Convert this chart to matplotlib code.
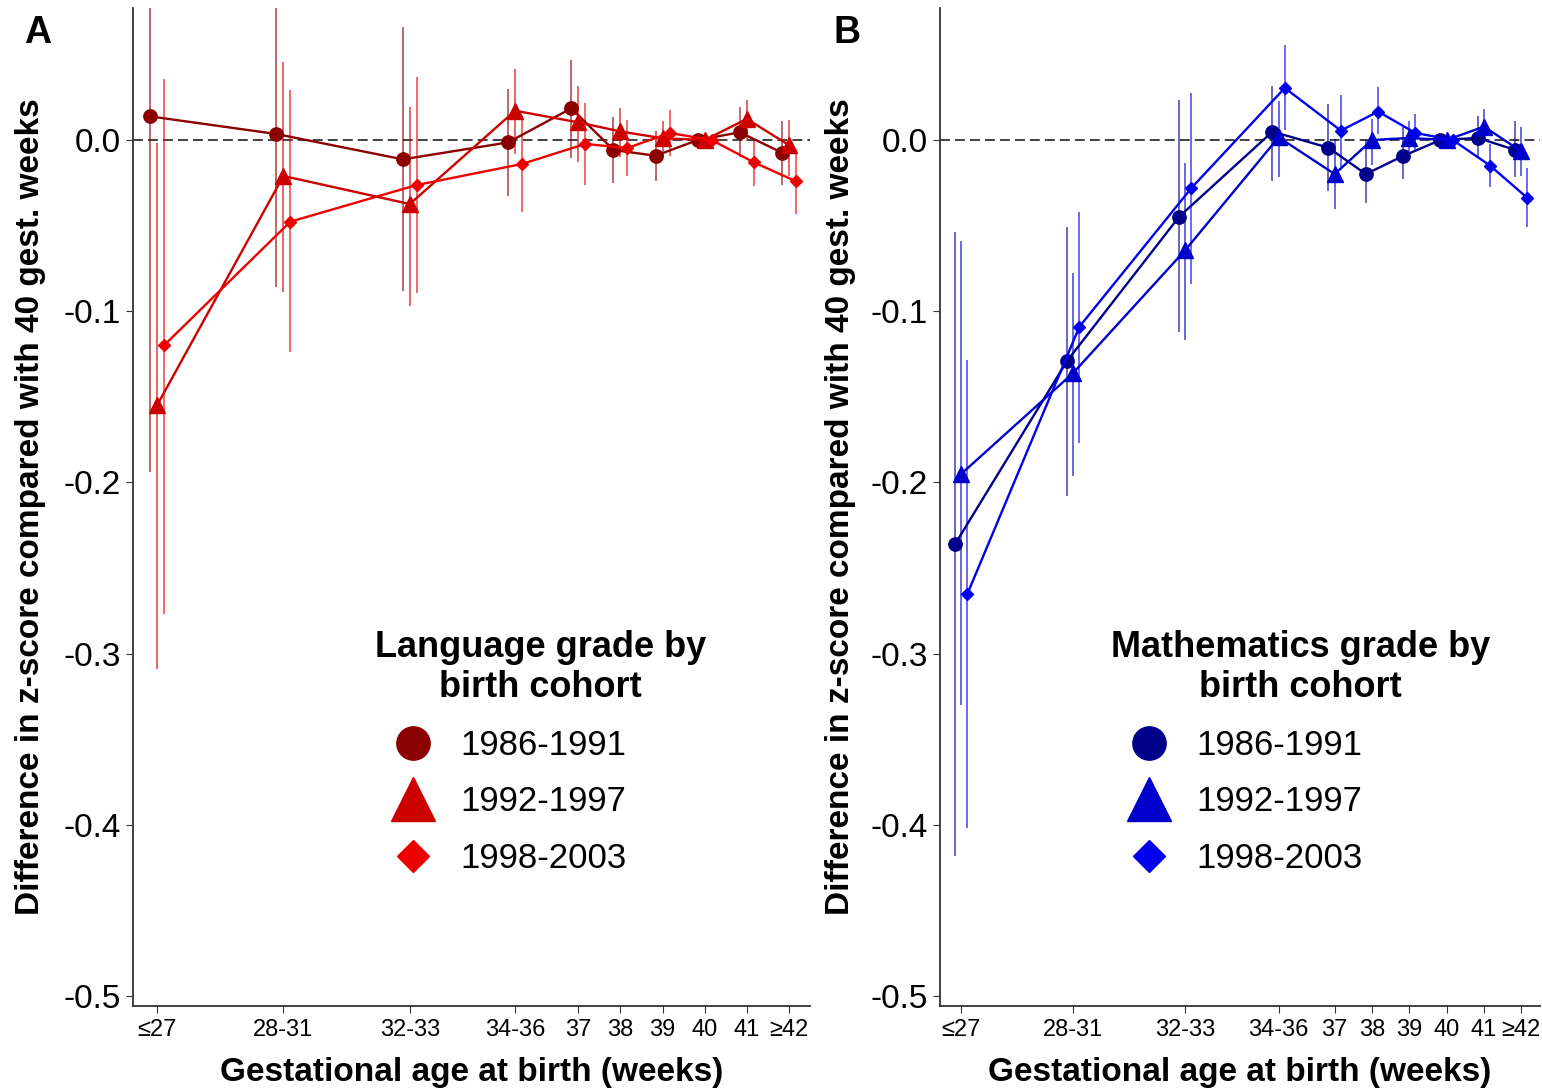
import numpy as np
import matplotlib
matplotlib.use('Agg')
import matplotlib.pyplot as plt
from matplotlib.lines import Line2D

plt.rcParams['font.family'] = ['Liberation Sans', 'DejaVu Sans']
plt.rcParams['axes.unicode_minus'] = False

# gestational age groups and where they sit on the week axis
categories = ['≤27', '28-31', '32-33', '34-36', '37', '38', '39', '40', '41', '≥42']
weeks = [27, 30, 33, 35.5, 37, 38, 39, 40, 41, 42]
cohorts = ['1986-1991', '1992-1997', '1998-2003']

# Language grade: estimate, lower, upper
lang_8691 = [0.0138, 0.0035, -0.0113, -0.0014, 0.0185, -0.0058, -0.0092, 0.0, 0.0045, -0.0074]
lang_8691_lo = [-0.194, -0.086, -0.088, -0.0329, -0.0105, -0.0253, -0.0238, 0.0, -0.0101, -0.026]
lang_8691_hi = [0.222, 0.093, 0.0658, 0.0298, 0.0469, 0.0132, 0.0055, 0.0, 0.019, 0.0113]

lang_9297 = [-0.155, -0.021, -0.0374, 0.0171, 0.0103, 0.005, 0.001, 0.0, 0.0123, -0.003]
lang_9297_lo = [-0.309, -0.0886, -0.0968, -0.0082, -0.013, -0.0101, -0.0097, 0.0, -0.0004, -0.0208]
lang_9297_hi = [-0.002, 0.0454, 0.0195, 0.0415, 0.0313, 0.0187, 0.0113, 0.0, 0.0234, 0.0117]

lang_9803 = [-0.120, -0.0477, -0.0263, -0.014, -0.0023, -0.0047, 0.0041, 0.0, -0.013, -0.0241]
lang_9803_lo = [-0.277, -0.124, -0.0896, -0.0423, -0.026, -0.0212, -0.0092, 0.0, -0.0267, -0.0432]
lang_9803_hi = [0.0356, 0.029, 0.0366, 0.0143, 0.0216, 0.0117, 0.0175, 0.0, 0.0005, -0.005]

# Mathematics grade: estimate, lower, upper
math_8691 = [-0.236, -0.129, -0.0448, 0.0049, -0.0045, -0.0199, -0.0093, 0.0, 0.0012, -0.0058]
math_8691_lo = [-0.418, -0.208, -0.1123, -0.0238, -0.03, -0.0368, -0.0228, 0.0, -0.0101, -0.0218]
math_8691_hi = [-0.0535, -0.0506, 0.0234, 0.0317, 0.021, 0.0, 0.0078, 0.0, 0.0142, 0.011]

math_9297 = [-0.195, -0.136, -0.0643, 0.0016, -0.0199, 0.0, 0.0012, 0.0, 0.0078, -0.0066]
math_9297_lo = [-0.330, -0.196, -0.117, -0.0214, -0.0403, -0.0144, -0.008, 0.0, -0.0004, -0.0208]
math_9297_hi = [-0.0588, -0.0779, -0.0134, 0.023, 0.0005, 0.0123, 0.011, 0.0, 0.0181, 0.0074]

math_9803 = [-0.265, -0.109, -0.028, 0.0304, 0.0055, 0.0166, 0.0041, 0.0, -0.015, -0.0339]
math_9803_lo = [-0.402, -0.177, -0.0841, 0.0058, -0.0155, 0.0035, -0.007, 0.0, -0.0273, -0.051]
math_9803_hi = [-0.1285, -0.0419, 0.0273, 0.0557, 0.0265, 0.0308, 0.0152, 0.0, -0.0023, -0.0164]

yticks = [0.0, -0.1, -0.2, -0.3, -0.4, -0.5]

reds = ['#8B0000', '#CD0000', '#EE0000']
blues = ['#00008B', '#0000CD', '#0000EE']
markers = ['o', '^', 'D']
msizes = [9.6, 11, 6.6]
leg_sizes = [24, 31, 16]
dodge = [-0.165, 0.0, 0.165]

fig = plt.figure(figsize=(15.42, 10.89), dpi=100)
ax_a = fig.add_axes([133 / 1542, 83 / 1089, 677 / 1542, 998 / 1089])
ax_b = fig.add_axes([940 / 1542, 83 / 1089, 600 / 1542, 998 / 1089])


def draw_panel(ax, series, colors, title, label_x, leg_x):
    x = np.array(weeks)
    ax.axhline(0, color='#333333', lw=1.3, ls=(0, (5.5, 2.8)), zorder=1)
    for i, (est, lo, hi) in enumerate(series):
        est = np.array(est)
        xs = x + dodge[i]
        ax.vlines(xs, lo, hi, color=colors[i], lw=1.1, alpha=0.75, zorder=2)
        ax.plot(xs, est, color=colors[i], lw=1.7, marker=markers[i], ms=msizes[i],
                mec=colors[i], mfc=colors[i], zorder=3)
    ax.set_xlim(26.43, 42.5)
    ax.set_ylim(-0.5058, 0.0771)
    ax.set_xticks(weeks)
    ax.set_xticklabels(categories)
    ax.set_yticks(yticks)
    ax.set_yticklabels([f'{v:.1f}' for v in yticks])
    for s in ['top', 'right']:
        ax.spines[s].set_visible(False)
    for s in ['left', 'bottom']:
        ax.spines[s].set_color('#333333')
        ax.spines[s].set_linewidth(1.3)
    ax.tick_params(axis='x', labelsize=17, length=5, color='#333333', pad=4)
    ax.tick_params(axis='y', labelsize=24, length=5, color='#333333', pad=4)
    ax.set_xlabel('Gestational age at birth (weeks)', fontsize=24, fontweight='bold')
    ax.xaxis.set_label_coords(0.5, -0.051)
    ax.set_ylabel('Difference in z-score compared with 40 gest. weeks', fontsize=24, fontweight='bold')
    ax.yaxis.set_label_coords(label_x, 0.5)

    handles = [Line2D([], [], ls='none', marker=markers[i], ms=leg_sizes[i],
                      mfc=colors[i], mec=colors[i]) for i in range(3)]
    leg = ax.legend(handles, cohorts, title=title, loc='upper left',
                    bbox_to_anchor=(leg_x, 0.377), frameon=False, fontsize=25,
                    title_fontproperties={'weight': 'bold', 'size': 26},
                    labelspacing=0.68, handlelength=2.2, handletextpad=0.25,
                    borderpad=0, borderaxespad=0, alignment='left')
    leg.get_title().set_multialignment('center')


draw_panel(ax_a, [(lang_8691, lang_8691_lo, lang_8691_hi),
                  (lang_9297, lang_9297_lo, lang_9297_hi),
                  (lang_9803, lang_9803_lo, lang_9803_hi)],
           reds, 'Language grade by\nbirth cohort', -0.1285, 0.3575)
draw_panel(ax_b, [(math_8691, math_8691_lo, math_8691_hi),
                  (math_9297, math_9297_lo, math_9297_hi),
                  (math_9803, math_9803_lo, math_9803_hi)],
           blues, 'Mathematics grade by\nbirth cohort', -0.14, 0.285)

fig.text(38 / 1542, 1 - 33 / 1089, 'A', ha='center', va='center', fontsize=27, fontweight='bold')
fig.text(847 / 1542, 1 - 33 / 1089, 'B', ha='center', va='center', fontsize=27, fontweight='bold')

fig.savefig('out.png', dpi=100, facecolor='white')
